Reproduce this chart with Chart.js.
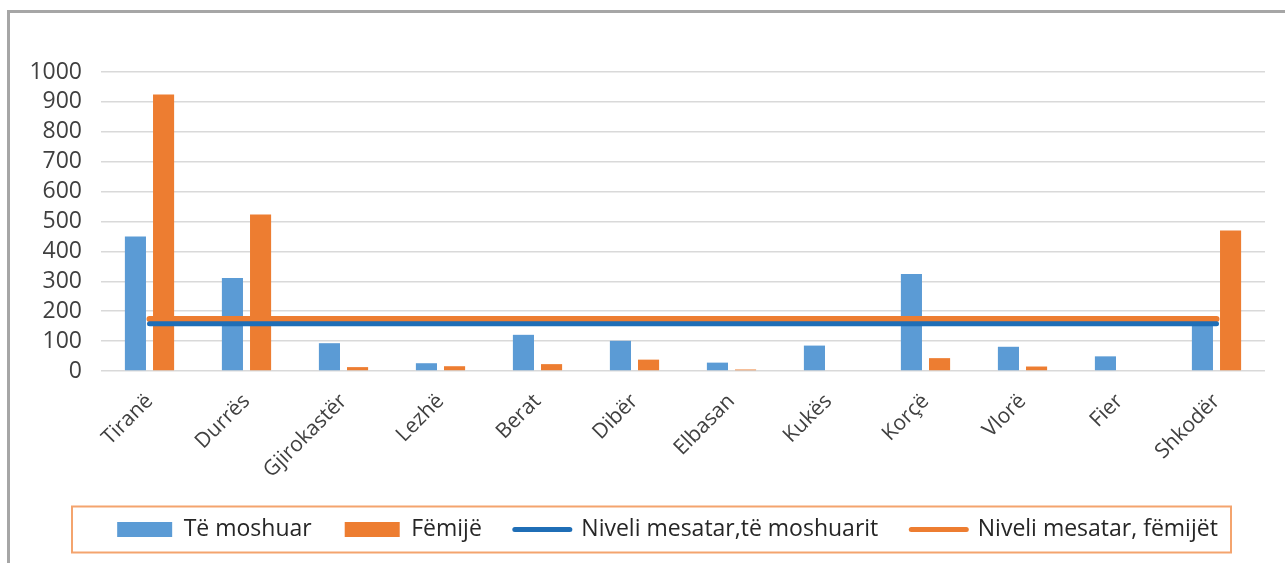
<!DOCTYPE html>
<html>
<head>
<meta charset="utf-8">
<title>Të moshuar dhe fëmijë sipas qarqeve</title>
<script src="https://cdn.jsdelivr.net/npm/chart.js@4.4.1/dist/chart.umd.min.js"></script>
<style>
  html, body { margin: 0; padding: 0; background: #fff; overflow: hidden; }
  #frame {
    position: absolute; left: 7px; top: 10px; width: 1320px; height: 600px;
    border-left: 3px solid #a6a6a6; border-top: 3px solid #a6a6a6;
  }
  #wrap { position: absolute; left: 0; top: 0; width: 1285px; height: 563px; }
</style>
</head>
<body>
<div id="frame"></div>
<div id="wrap"><canvas id="chart" width="1285" height="563"></canvas></div>
<script>
// categories and values
const districts = ['Tiranë', 'Durrës', 'Gjirokastër', 'Lezhë', 'Berat', 'Dibër', 'Elbasan', 'Kukës', 'Korçë', 'Vlorë', 'Fier', 'Shkodër'];
const elderly  = [450, 311, 93, 26, 121, 101, 28, 85, 324, 81, 49, 165];
const children = [925, 523, 13, 16, 23, 38, 5, 0, 43, 15, 0, 470];
// average levels (flat lines)
const elderlyAvg  = [158, 158, 158, 158, 158, 158, 158, 158, 158, 158, 158, 158];
const childrenAvg = [174, 174, 174, 174, 174, 174, 174, 174, 174, 174, 174, 174];
const yMax = 1000;
const yStep = 100;

const FONT = "'Open Sans', 'DejaVu Sans', sans-serif";

// frame drawn around the legend, like the Excel original
const legendFrame = {
  id: 'legendFrame',
  afterLayout(chart) {
    // nudge legend to the right, as in the original
    chart.legend.left += 30;
    chart.legend.right += 30;
  },
  afterDraw(chart) {
    const lg = chart.legend;
    const hb = lg.legendHitBoxes;
    if (!hb || !hb.length) return;
    const cy = hb[0].top + hb[0].height / 2;
    const ctx = chart.ctx;
    ctx.save();
    ctx.strokeStyle = '#f4a46e';
    ctx.lineWidth = 2;
    ctx.strokeRect(72, cy - 23, 1159, 46);
    ctx.restore();
  }
};

document.addEventListener('DOMContentLoaded', () => {
  const ctx = document.getElementById('chart').getContext('2d');
  const chart = new Chart(ctx, {
    type: 'bar',
    data: {
      labels: districts,
      datasets: [{
          label: 'Të moshuar',
          data: elderly,
          backgroundColor: '#5b9bd5',
          categoryPercentage: 0.58,
          barPercentage: 0.75,
          order: 2
        }, {
          label: 'Fëmijë',
          data: children,
          backgroundColor: '#ed7d31',
          categoryPercentage: 0.58,
          barPercentage: 0.75,
          order: 2
        }, {
          type: 'line',
          label: 'Niveli mesatar,të moshuarit',
          data: elderlyAvg,
          borderColor: '#1f6eb6',
          backgroundColor: '#1f6eb6',
          borderWidth: 5,
          borderCapStyle: 'round',
          pointRadius: 0,
          order: 0
        }, {
          type: 'line',
          label: 'Niveli mesatar, fëmijët',
          data: childrenAvg,
          borderColor: '#ed7d31',
          backgroundColor: '#ed7d31',
          borderWidth: 6,
          borderCapStyle: 'round',
          pointRadius: 0,
          order: 1
        }]
    },
    options: {
      responsive: false,
      animation: false,
      layout: { padding: { left: 10, right: 20, top: 72, bottom: 12 } },
      scales: {
        x: {
          grid: { display: false },
          border: { display: false },
          ticks: {
            autoSkip: false,
            minRotation: 45,
            maxRotation: 45,
            padding: 10,
            color: '#404040',
            font: { family: FONT, size: 21 }
          },
          afterFit(scale) { scale.height = 114; }
        },
        y: {
          min: 0,
          max: yMax,
          border: { display: false },
          grid: { color: '#d9d9d9', lineWidth: 1.5, drawTicks: false },
          ticks: {
            stepSize: yStep,
            autoSkip: false,
            padding: 19,
            color: '#404040',
            font: { family: FONT, size: 23 },
            callback: (v) => String(v)
          },
          afterFit(scale) { scale.width = 91; }
        }
      },
      plugins: {
        tooltip: { enabled: false },
        legend: {
          position: 'bottom',
          labels: {
            usePointStyle: true,
            pointStyleWidth: 55,
            boxHeight: 15,
            padding: 33,
            color: '#262626',
            font: { family: FONT, size: 23 },
            sort: (a, b) => a.datasetIndex - b.datasetIndex,
            generateLabels(chart) {
              const items = Chart.defaults.plugins.legend.labels.generateLabels(chart);
              items.forEach(it => {
                const ds = chart.data.datasets[it.datasetIndex];
                if (ds.type === 'line') {
                  it.pointStyle = 'line';
                  it.strokeStyle = ds.borderColor;
                  it.lineWidth = 5;
                  it.lineCap = 'round';
                } else {
                  it.pointStyle = 'rect';
                  it.fillStyle = ds.backgroundColor;
                  it.lineWidth = 0;
                }
              });
              return items;
            }
          }
        }
      }
    },
    plugins: [legendFrame]
  });
});
</script>
</body>
</html>
